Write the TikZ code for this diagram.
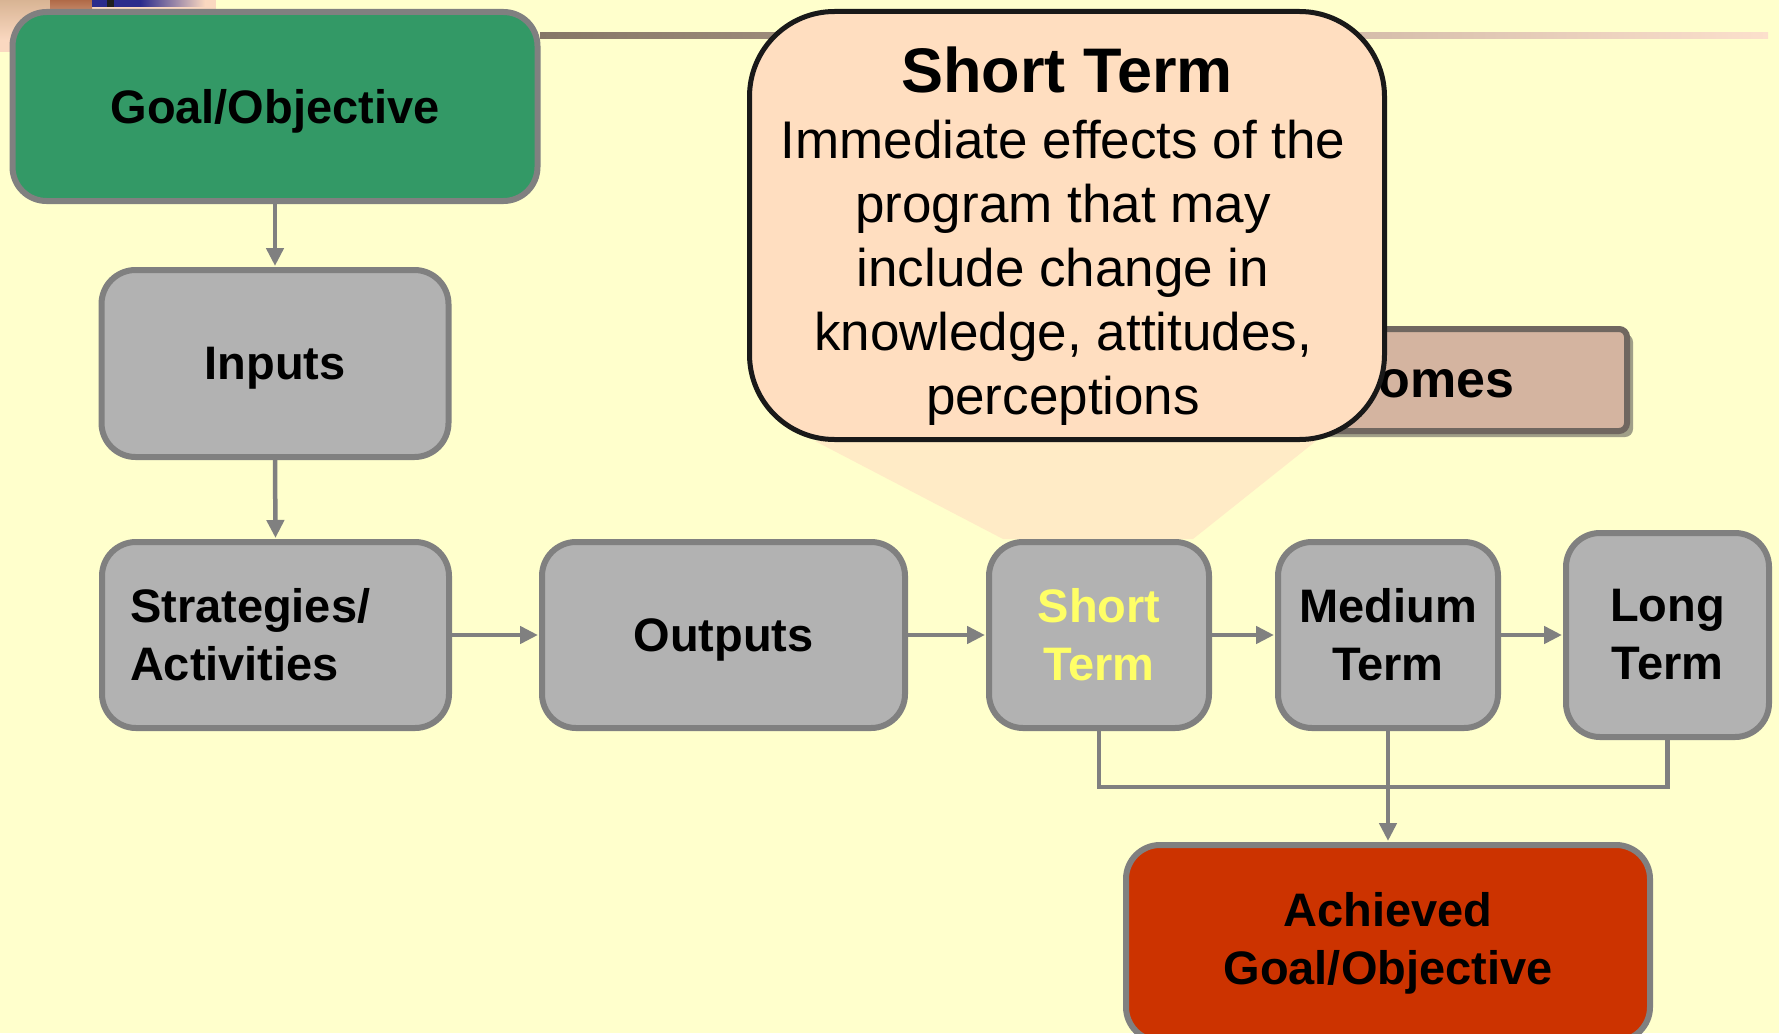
\documentclass[tikz,border=0pt]{standalone}
\usepackage{fontspec}
\setmainfont{Liberation Sans}
\usetikzlibrary{arrows.meta}
\definecolor{bg}{HTML}{FFFFCC}
\definecolor{boxfill}{HTML}{B2B2B2}
\definecolor{boxborder}{HTML}{808080}
\definecolor{goalfill}{HTML}{339966}
\definecolor{achfill}{HTML}{CC3300}
\definecolor{callfill}{HTML}{FFDEC0}
\definecolor{pointfill}{HTML}{FFEBC6}
\definecolor{outfill}{HTML}{D4B4A0}
\definecolor{outborder}{HTML}{706760}
\definecolor{shadowc}{HTML}{A09F88}
\definecolor{yellowtxt}{HTML}{FFFF66}
\definecolor{linebrown}{HTML}{857666}
\definecolor{linepeach}{HTML}{FCE0CC}
\definecolor{navy}{HTML}{2B2B8C}
\definecolor{peach}{HTML}{FAD8C0}
\definecolor{peachdark}{HTML}{B06A48}
\definecolor{peachtan}{HTML}{D8B494}
\begin{document}
\begin{tikzpicture}[x=1pt,y=-1pt,
  box/.style={draw=boxborder, line width=6pt, rounded corners=34pt, fill=boxfill,
    font=\fontsize{47}{58}\selectfont\bfseries, align=center, inner sep=0pt},
  conn/.style={draw=boxborder, line width=4.5pt, -{Triangle[length=18pt,width=17pt]}, shorten >=1pt},
  bline/.style={draw=boxborder, line width=4.5pt},
]
\useasboundingbox (0,0) rectangle (1779,1033);
\fill[bg] (0,0) rectangle (1779,1033);
% top-left slide decoration
\fill[peach] (0,0) rectangle (216,52);
\shade[top color=peachtan, bottom color=peach] (0,0) rectangle (50,40);
\shade[top color=peachdark, bottom color=peach] (50,0) rectangle (92,40);
\fill[navy] (92,0) rectangle (140,7);
\shade[left color=navy, right color=peach] (140,0) rectangle (205,7);
\fill[black!88] (107,0) rectangle (114,7);
% top rule
\shade[left color=linebrown, right color=linepeach] (540,33) rectangle (1768,39);
% outcomes box (mostly hidden)
\fill[shadowc, rounded corners=8pt] (1155,334) rectangle (1633,437);
\node[draw=outborder, line width=6pt, fill=outfill, rounded corners=8pt,
  minimum width=477pt, minimum height=102pt, inner sep=0pt] (outc) at (1388.5,380) {};
\node[anchor=east, inner sep=0pt, font=\fontsize{52}{60}\selectfont\bfseries] (outct) at (1515,380) {Outcomes};
% pointer of callout
\fill[pointfill] (815,441) -- (1316,441) -- (1193,539) -- (1003,539) -- cycle;
% boxes
\node[box, fill=goalfill, minimum width=525pt, minimum height=189pt, text depth=0pt] (goal) at (275,106.5) {Goal/Objective};
\node[box, minimum width=347pt, minimum height=187pt, text depth=0pt] (inputs) at (275,363.5) {Inputs};
\node[box, minimum width=347pt, minimum height=186pt, text width=291pt, align=left] (strat) at (275.5,635) {Strategies/\\Activities};
\node[box, minimum width=363pt, minimum height=186pt, text depth=0pt] (outputs) at (723.5,635) {Outputs};
\node[box, minimum width=220pt, minimum height=186pt, text=yellowtxt] (short) at (1099,635) {Short\\Term};
\node[box, minimum width=220pt, minimum height=186pt] (medium) at (1388,635) {Medium\\Term};
\node[box, minimum width=203pt, minimum height=204pt] (long) at (1667.5,635) {Long\\Term};
\node[box, fill=achfill, minimum width=524pt, minimum height=196pt] (ach) at (1388,943) {Achieved\\Goal/Objective};
% connectors
\draw[conn] (goal.south) -- (inputs.north);
\draw[conn] (inputs.south) -- (strat.north);
\draw[conn] (strat.east) -- (outputs.west);
\draw[conn] (outputs.east) -- (short.west);
\draw[conn] (short.east) -- (medium.west);
\draw[conn] (medium.east) -- (long.west);
\coordinate (brk) at (1099,787);
\draw[bline] (short.south) -- (brk) -| (long.south);
\draw[conn] (medium.south) -- (ach.north);
% callout
\node[draw=black!90, line width=5pt, fill=callfill, rounded corners=85pt,
  minimum width=635pt, minimum height=428pt, inner sep=0pt] (call) at (1067,225.5) {};
\node[font=\fontsize{63}{70}\selectfont\bfseries, inner sep=0pt] (calltitle) at (1067,70) {Short Term};
\node[font=\fontsize{53}{64}\selectfont, align=center, inner sep=0pt] (callbody) at (1063,273)
  {Immediate effects of the\\program that may\\include change in\\knowledge, attitudes,\\perceptions};
\end{tikzpicture}
\end{document}
